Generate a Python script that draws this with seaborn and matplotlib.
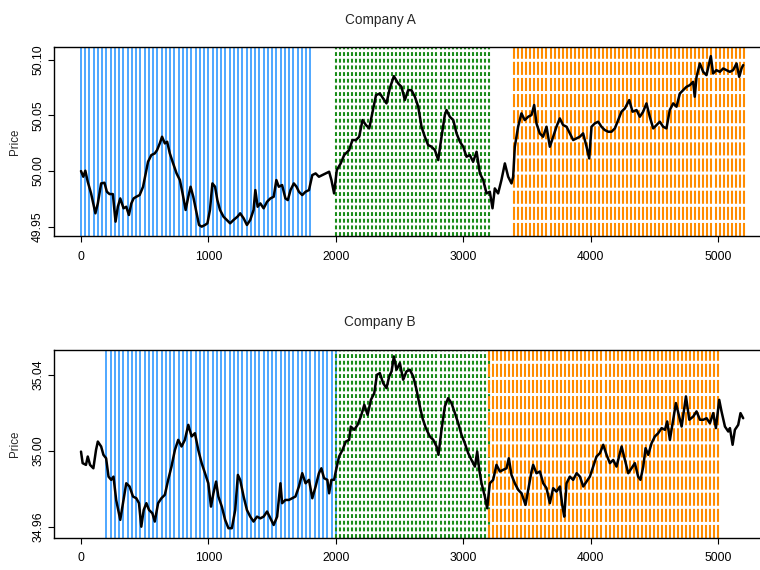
import numpy as np
import pandas as pd
import matplotlib
matplotlib.use("Agg")
import matplotlib.pyplot as plt
import seaborn as sns

# ---- price series -------------------------------------------------------
time_a = [0, 18, 34, 53, 79, 113, 132, 158, 184, 203, 224, 250, 271, 289, 308, 334, 355, 376,
          395, 413, 434, 460, 487, 508, 526, 552, 579, 597, 618, 636, 658, 676, 697, 723, 750,
          776, 797, 821, 842, 860, 881, 907, 926, 947, 973, 992, 1012, 1031, 1052, 1070, 1091,
          1118, 1144, 1170, 1197, 1228, 1249, 1276, 1302, 1328, 1354, 1368, 1386, 1407, 1433,
          1460, 1486, 1512, 1533, 1552, 1578, 1604, 1623, 1644, 1670, 1691, 1710, 1736, 1762,
          1789, 1815, 1841, 1867, 1894, 1920, 1947, 1965, 1986, 2007, 2038, 2065, 2104, 2130,
          2157, 2183, 2209, 2236, 2262, 2288, 2315, 2345, 2371, 2397, 2423, 2455, 2489, 2515,
          2541, 2567, 2593, 2620, 2646, 2672, 2698, 2724, 2750, 2777, 2803, 2829, 2855, 2868,
          2894, 2921, 2947, 2973, 2999, 3025, 3051, 3077, 3104, 3130, 3156, 3182, 3208, 3229,
          3247, 3273, 3299, 3326, 3352, 3378, 3391, 3404, 3430, 3456, 3482, 3509, 3535, 3556,
          3574, 3600, 3626, 3653, 3679, 3705, 3731, 3757, 3783, 3810, 3836, 3862, 3888, 3914,
          3940, 3967, 3988, 4006, 4032, 4058, 4084, 4110, 4137, 4163, 4189, 4215, 4241, 4268,
          4302, 4328, 4359, 4385, 4411, 4437, 4463, 4490, 4516, 4542, 4568, 4594, 4620, 4647,
          4673, 4699, 4725, 4751, 4777, 4803, 4816, 4830, 4856, 4882, 4908, 4942, 4960, 4986,
          5013, 5039, 5065, 5091, 5117, 5144, 5165, 5183, 5196]
price_a = [50.0000, 49.9949, 50.0003, 49.9904, 49.9799, 49.9620, 49.9709, 49.9889, 49.9895,
           49.9814, 49.9793, 49.9793, 49.9545, 49.9679, 49.9754, 49.9665, 49.9679, 49.9605,
           49.9709, 49.9754, 49.9769, 49.9784, 49.9859, 49.9979, 50.0084, 50.0144, 50.0159,
           50.0189, 50.0249, 50.0309, 50.0249, 50.0264, 50.0159, 50.0069, 49.9979, 49.9919,
           49.9799, 49.9650, 49.9769, 49.9859, 49.9769, 49.9620, 49.9515, 49.9500, 49.9515,
           49.9530, 49.9650, 49.9889, 49.9859, 49.9739, 49.9650, 49.9590, 49.9560, 49.9530,
           49.9560, 49.9590, 49.9620, 49.9575, 49.9515, 49.9560, 49.9650, 49.9829, 49.9679,
           49.9709, 49.9665, 49.9724, 49.9754, 49.9769, 49.9919, 49.9859, 49.9874, 49.9754,
           49.9739, 49.9829, 49.9889, 49.9859, 49.9814, 49.9784, 49.9814, 49.9829, 49.9964,
           49.9979, 49.9949, 49.9964, 49.9979, 49.9994, 49.9919, 49.9799, 50.0009, 50.0069,
           50.0144, 50.0189, 50.0279, 50.0279, 50.0309, 50.0459, 50.0414, 50.0384, 50.0534,
           50.0683, 50.0698, 50.0654, 50.0609, 50.0744, 50.0854, 50.0788, 50.0758, 50.0639,
           50.0728, 50.0728, 50.0669, 50.0579, 50.0399, 50.0309, 50.0234, 50.0219, 50.0189,
           50.0099, 50.0309, 50.0504, 50.0549, 50.0489, 50.0459, 50.0339, 50.0264, 50.0219,
           50.0129, 50.0144, 50.0084, 50.0174, 49.9979, 49.9919, 49.9799, 49.9814, 49.9665,
           49.9844, 49.9799, 49.9919, 50.0069, 49.9949, 49.9889, 49.9949, 50.0219, 50.0399,
           50.0519, 50.0459, 50.0489, 50.0504, 50.0594, 50.0429, 50.0339, 50.0309, 50.0399,
           50.0219, 50.0309, 50.0399, 50.0474, 50.0414, 50.0399, 50.0339, 50.0279, 50.0294,
           50.0309, 50.0339, 50.0219, 50.0114, 50.0399, 50.0429, 50.0444, 50.0399, 50.0369,
           50.0354, 50.0354, 50.0384, 50.0459, 50.0534, 50.0564, 50.0639, 50.0534, 50.0549,
           50.0489, 50.0534, 50.0609, 50.0489, 50.0384, 50.0414, 50.0444, 50.0399, 50.0384,
           50.0549, 50.0609, 50.0579, 50.0698, 50.0728, 50.0758, 50.0773, 50.0803, 50.0669,
           50.0848, 50.0968, 50.0893, 50.0863, 50.1034, 50.0878, 50.0908, 50.0893, 50.0923,
           50.0908, 50.0893, 50.0908, 50.0968, 50.0848, 50.0923, 50.0953]

time_b = [0, 13, 39, 53, 71, 97, 118, 132, 158, 176, 197, 216, 237, 255, 276, 308, 334, 355,
          381, 408, 434, 455, 473, 492, 513, 534, 560, 579, 605, 631, 658, 684, 710, 737, 763,
          789, 815, 842, 868, 894, 920, 947, 973, 999, 1020, 1039, 1060, 1078, 1105, 1131, 1157,
          1184, 1210, 1231, 1249, 1276, 1302, 1328, 1354, 1381, 1407, 1433, 1460, 1486, 1512,
          1539, 1565, 1578, 1604, 1631, 1657, 1683, 1710, 1736, 1762, 1789, 1815, 1841, 1867,
          1886, 1907, 1933, 1947, 1965, 1986, 1999, 2025, 2052, 2078, 2104, 2117, 2144, 2170,
          2196, 2223, 2249, 2275, 2301, 2322, 2345, 2371, 2397, 2418, 2437, 2455, 2476, 2502,
          2528, 2554, 2580, 2607, 2633, 2659, 2680, 2706, 2737, 2764, 2790, 2805, 2829, 2855,
          2881, 2907, 2934, 2960, 2986, 3012, 3038, 3064, 3091, 3109, 3125, 3143, 3169, 3187,
          3208, 3234, 3260, 3287, 3313, 3339, 3357, 3378, 3404, 3431, 3457, 3488, 3509, 3535,
          3548, 3574, 3601, 3627, 3653, 3679, 3705, 3731, 3758, 3778, 3792, 3810, 3836, 3862,
          3889, 3915, 3941, 3967, 3993, 4019, 4045, 4072, 4098, 4124, 4150, 4176, 4202, 4229,
          4242, 4268, 4294, 4320, 4346, 4372, 4390, 4412, 4430, 4451, 4477, 4503, 4529, 4556,
          4582, 4600, 4621, 4642, 4668, 4694, 4713, 4747, 4773, 4804, 4830, 4857, 4883, 4909,
          4935, 4961, 4982, 5008, 5026, 5053, 5079, 5092, 5113, 5131, 5157, 5175, 5196]
price_b = [34.9996, 34.9935, 34.9926, 34.9970, 34.9926, 34.9908, 35.0005, 35.0049, 35.0023,
           34.9979, 34.9961, 34.9864, 34.9847, 34.9864, 34.9741, 34.9636, 34.9741, 34.9829,
           34.9812, 34.9759, 34.9750, 34.9724, 34.9600, 34.9688, 34.9724, 34.9688, 34.9671,
           34.9627, 34.9724, 34.9750, 34.9768, 34.9847, 34.9917, 35.0005, 35.0058, 35.0023,
           35.0058, 35.0137, 35.0076, 35.0093, 35.0005, 34.9935, 34.9882, 34.9829, 34.9706,
           34.9776, 34.9838, 34.9759, 34.9706, 34.9636, 34.9592, 34.9592, 34.9688, 34.9873,
           34.9847, 34.9759, 34.9688, 34.9653, 34.9627, 34.9653, 34.9644, 34.9653, 34.9680,
           34.9644, 34.9609, 34.9653, 34.9829, 34.9724, 34.9741, 34.9741, 34.9750, 34.9759,
           34.9812, 34.9882, 34.9829, 34.9847, 34.9750, 34.9812, 34.9882, 34.9908, 34.9856,
           34.9847, 34.9776, 34.9847, 34.9847, 34.9891, 34.9970, 35.0005, 35.0049, 35.0058,
           35.0128, 35.0111, 35.0137, 35.0181, 35.0243, 35.0190, 35.0269, 35.0304, 35.0401,
           35.0410, 35.0357, 35.0331, 35.0392, 35.0419, 35.0498, 35.0428, 35.0463, 35.0375,
           35.0419, 35.0428, 35.0392, 35.0322, 35.0234, 35.0172, 35.0120, 35.0076, 35.0058,
           35.0023, 34.9979, 35.0111, 35.0234, 35.0278, 35.0252, 35.0199, 35.0146, 35.0084,
           35.0040, 34.9988, 34.9952, 34.9917, 34.9996, 34.9900, 34.9829, 34.9759, 34.9697,
           34.9829, 34.9847, 34.9926, 34.9891, 34.9900, 34.9908, 34.9961, 34.9873, 34.9829,
           34.9794, 34.9776, 34.9715, 34.9794, 34.9891, 34.9926, 34.9882, 34.9891, 34.9829,
           34.9803, 34.9724, 34.9803, 34.9785, 34.9812, 34.9706, 34.9653, 34.9829, 34.9864,
           34.9847, 34.9882, 34.9864, 34.9812, 34.9838, 34.9864, 34.9917, 34.9970, 34.9988,
           35.0032, 34.9979, 34.9935, 34.9952, 34.9917, 34.9988, 35.0023, 34.9952, 34.9882,
           34.9908, 34.9935, 34.9864, 34.9847, 34.9917, 35.0014, 34.9979, 35.0040, 35.0076,
           35.0093, 35.0120, 35.0111, 35.0155, 35.0058, 35.0146, 35.0252, 35.0181, 35.0128,
           35.0287, 35.0164, 35.0181, 35.0208, 35.0164, 35.0164, 35.0172, 35.0146, 35.0199,
           35.0120, 35.0269, 35.0208, 35.0128, 35.0102, 35.0120, 35.0032, 35.0111, 35.0137,
           35.0199, 35.0172]

# ---- regime windows: (start, end, number of marker lines) ---------------
regimes_a = [(0, 1800, 55), (2000, 3200, 39), (3400, 5200, 58)]
regimes_b = [(200, 2000, 55), (2000, 3200, 39), (3200, 5000, 58)]

yticks_a = [49.95, 50.00, 50.05, 50.10]
yticks_b = [34.96, 35.00, 35.04]
xticks = [0, 1000, 2000, 3000, 4000, 5000]

# ---- styling ----------------------------------------------------------------
sns.set_theme(style="ticks")
plt.rcParams["font.family"] = ["Liberation Sans", "DejaVu Sans"]
plt.rcParams["lines.scale_dashes"] = False

regime_styles = [
    dict(color="#1E90FF", linewidth=1.1, linestyle="solid"),
    dict(color="#1A8C1A", linewidth=1.5, linestyle=(0, (2.8, 2.0))),
    dict(color="#FF8C00", linewidth=1.5, linestyle=(0, (9.4, 2.2))),
]

AX_LEFT, AX_WIDTH = 0.0717, 0.9283
# titles sit over the middle of the canvas
TITLE_X = (0.5 - AX_LEFT) / AX_WIDTH


def draw_panel(ax, times, prices, regimes, title, yticks, ylim):
    for (start, end, n), style in zip(regimes, regime_styles):
        xs = np.linspace(start, end, n)
        ax.vlines(xs, 0, 1, transform=ax.get_xaxis_transform(),
                  colors=style["color"], linewidths=style["linewidth"],
                  linestyles=[style["linestyle"]], zorder=1)
    df = pd.DataFrame({"time": times, "price": prices})
    sns.lineplot(data=df, x="time", y="price", ax=ax, color="black",
                 linewidth=1.8, estimator=None, sort=False, zorder=3)
    # the plotting box runs out past the right edge of the canvas
    ax.set_xlim(-208, 5328)
    ax.set_ylim(*ylim)
    ax.set_xticks(xticks)
    ax.set_xticklabels([str(t) for t in xticks])
    ax.set_yticks(yticks)
    ax.set_yticklabels([f"{t:.2f}" for t in yticks])
    for lab in ax.get_yticklabels():
        lab.set_rotation(90)
        lab.set_va("center")
    ax.tick_params(axis="both", direction="out", length=4.5, width=0.8,
                   labelsize=8.7, colors="black")
    ax.tick_params(axis="x", pad=6)
    ax.tick_params(axis="y", pad=3)
    for side in ["top", "bottom", "left"]:
        ax.spines[side].set_visible(True)
        ax.spines[side].set_linewidth(1.0)
        ax.spines[side].set_color("black")
    ax.spines["right"].set_visible(False)
    ax.set_xlabel("")
    ax.set_ylabel("Price", fontsize=8.3, labelpad=8)
    ax.set_title(title, fontsize=9.8, pad=17, x=TITLE_X)
    ax.grid(False)


fig = plt.figure(figsize=(7.6, 5.7), dpi=100)
ax_a = fig.add_axes([AX_LEFT, 0.5860, AX_WIDTH, 0.3311])
ax_b = fig.add_axes([AX_LEFT, 0.0567, AX_WIDTH, 0.3293])

draw_panel(ax_a, time_a, price_a, regimes_a, "Company A", yticks_a, (49.9416, 50.1114))
draw_panel(ax_b, time_b, price_b, regimes_b, "Company B", yticks_b, (34.9542, 35.0532))

fig.savefig("out.png", dpi=100)
